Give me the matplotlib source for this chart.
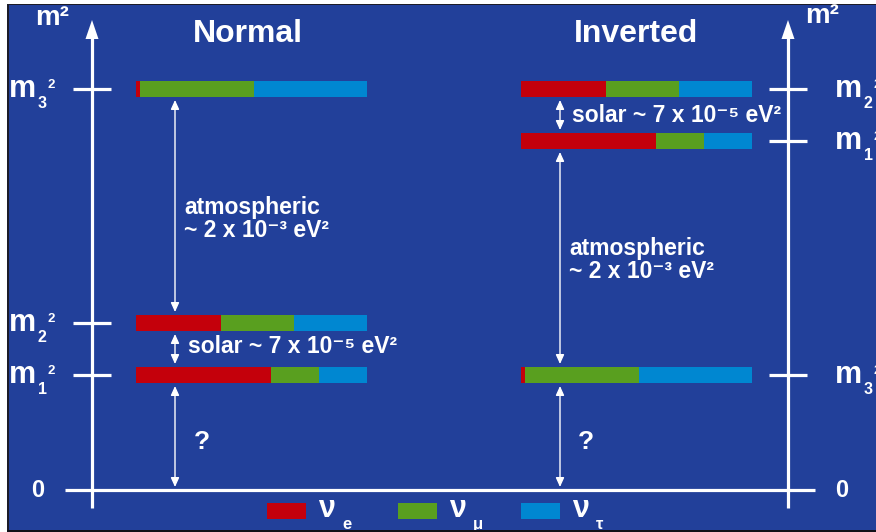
import matplotlib
matplotlib.use("Agg")
import matplotlib.pyplot as plt
from matplotlib.patches import Rectangle, Polygon

plt.rcParams["font.family"] = ["Liberation Sans", "DejaVu Sans"]
plt.rcParams["font.weight"] = "bold"

# ---- data -------------------------------------------------------------
mass_states = ["1", "2", "3"]
# flavour content of each mass eigenstate (m1, m2, m3)
frac_e = [0.584, 0.368, 0.017]
frac_mu = [0.208, 0.316, 0.494]
frac_tau = [0.208, 0.316, 0.489]
flavour_names = ["e", "μ", "τ"]
flavour_colors = ["#c4000b", "#599f1f", "#0087d1"]

# schematic mass-squared levels (m1², m2², m3²)
level_normal = [115, 167, 401]
level_inverted = [349, 401, 115]

orderings = ["Normal", "Inverted"]
solar_text = "solar ~ 7 x 10⁻⁵ eV²"
atm_text = ["atmospheric", "~ 2 x 10⁻³ eV²"]

# ---- canvas -----------------------------------------------------------
BG = "#22409a"
W = "white"
fig = plt.figure(figsize=(8.76, 5.32), dpi=100)
fig.patch.set_facecolor("white")
ax = fig.add_axes([0, 0, 1, 1])
ax.set_xlim(0, 876)
ax.set_ylim(-42, 490)
ax.axis("off")


def row(p):
    """convert a slide row (from the top) into axis units"""
    return 490 - p


ax.add_patch(Rectangle((7, row(534)), 880, 534 - 3.5, facecolor="#1c1c28", lw=0, zorder=0))
ax.add_patch(Rectangle((9, row(529.5)), 880, 529.5 - 5, facecolor=BG, lw=0, zorder=0.5))

BAR_W = 231
BAR_H = 16
schemes = [(136, level_normal, 92, 175), (521, level_inverted, 788, 560)]

# ---- stacked flavour bars ---------------------------------------------
fracs = [frac_e, frac_mu, frac_tau]
for x0, levels, _, _ in schemes:
    left = [x0] * len(levels)
    for f, col in zip(fracs, flavour_colors):
        widths = [v * BAR_W for v in f]
        ax.barh(levels, widths, left=left, height=BAR_H, color=col, lw=0, zorder=3)
        left = [l + w for l, w in zip(left, widths)]

# ---- vertical axes with arrow heads, ticks and zero line ---------------
for _, levels, xa, _ in schemes:
    ax.vlines(xa, row(508), row(36), color=W, lw=2.3, zorder=4)
    ax.add_patch(Polygon([(xa - 6.5, row(39)), (xa + 6.5, row(39)), (xa, row(20))],
                         closed=True, facecolor=W, lw=0, zorder=4))
    ax.hlines(levels, xa - 19, xa + 19, color=W, lw=2.3, zorder=4)
ax.hlines(0, 65, 815, color=W, lw=2.3, zorder=4)

# axis labels
for xm, yb in ((35, 25), (805, 23)):
    ax.text(xm, row(yb), "m²", color=W, fontsize=20, va="baseline", zorder=5)
for xz in (31, 835):
    ax.text(xz, -7, "0", color=W, fontsize=17, va="baseline", zorder=5)

for (x0, levels, xa, _), xm in zip(schemes, (9, 835)):
    for lvl, s in zip(levels, mass_states):
        ax.text(xm, lvl - 8, "m", color=W, fontsize=22, va="baseline", zorder=5)
        ax.text(xm + 29, lvl - 19, s, color=W, fontsize=11.5, va="baseline", zorder=5)
        ax.text(xm + 39, lvl + 1, "2", color=W, fontsize=9.5, va="baseline", zorder=5)

# titles
ax.text(193, row(42), orderings[0], color=W, fontsize=23, va="baseline")
ax.text(574, row(42), orderings[1], color=W, fontsize=23, va="baseline")

# ---- splitting arrows --------------------------------------------------
GAP = 3
HALF = BAR_H / 2


def double_arrow(x, y0, y1):
    ax.annotate("", xy=(x, y1), xytext=(x, y0),
                arrowprops=dict(arrowstyle="<|-|>,head_length=0.55,head_width=0.25",
                                color=W, lw=1.0, shrinkA=0, shrinkB=0,
                                mutation_scale=10), zorder=4)


# normal ordering: m1 < m2 << m3
ln = level_normal
double_arrow(175, GAP, ln[0] - HALF - GAP)
double_arrow(175, ln[0] + HALF + GAP, ln[1] - HALF - GAP)
double_arrow(175, ln[1] + HALF + GAP, ln[2] - HALF - GAP)
# inverted ordering: m3 << m1 < m2
li = level_inverted
double_arrow(560, GAP, li[2] - HALF - GAP)
double_arrow(560, li[2] + HALF + GAP, li[0] - HALF - GAP)
double_arrow(560, li[0] + HALF + GAP, li[1] - HALF - GAP)

# ---- annotations -------------------------------------------------------
FS = 16.5
ax.text(184, row(214), atm_text[0], color=W, fontsize=FS, va="baseline")
ax.text(184, row(237), atm_text[1], color=W, fontsize=FS, va="baseline")
ax.text(188, row(353), solar_text, color=W, fontsize=FS, va="baseline")
ax.text(569, row(255), atm_text[0], color=W, fontsize=FS, va="baseline")
ax.text(569, row(278), atm_text[1], color=W, fontsize=FS, va="baseline")
ax.text(572, row(122), solar_text, color=W, fontsize=FS, va="baseline")
ax.text(194, row(449), "?", color=W, fontsize=19, va="baseline")
ax.text(578, row(449), "?", color=W, fontsize=19, va="baseline")

# ---- flavour legend ----------------------------------------------------
for xr, name, col in zip((267, 398, 521), flavour_names, flavour_colors):
    ax.add_patch(Rectangle((xr, row(519)), 39, 16, facecolor=col, lw=0, zorder=3))
    ax.text(xr + 51, row(517), "ν", color=W, fontsize=22, va="baseline", zorder=5)
    ax.text(xr + 75, row(529), name, color=W, fontsize=12, va="baseline", zorder=5)

# bottom frame edge drawn over the legend subscripts
ax.add_patch(Rectangle((7, row(534)), 880, 4.5, facecolor="#101018", lw=0, zorder=10))

fig.savefig("out.png", dpi=100, facecolor=fig.get_facecolor())
